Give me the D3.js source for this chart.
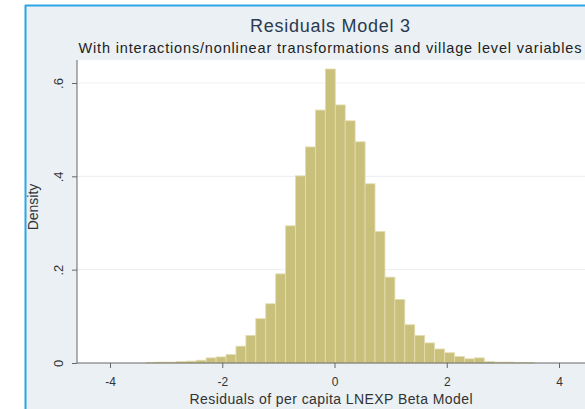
<!DOCTYPE html>
<html>
<head>
<meta charset="utf-8">
<script src="https://cdn.jsdelivr.net/npm/d3@7"></script>
<style>
  body { margin: 0; background: #fff; }
  svg { display: block; font-family: "Liberation Sans", Arial, sans-serif; }
</style>
</head>
<body>
<div id="chart"></div>
<script>
// histogram settings
const binStart = -3.349;
const binWidth = 0.177;
const densities = [
  0.001, 0.002, 0.002, 0.003, 0.004, 0.006, 0.011, 0.013, 0.018, 0.036,
  0.059, 0.095, 0.127, 0.191, 0.294, 0.401, 0.463, 0.542, 0.630, 0.553,
  0.519, 0.474, 0.384, 0.282, 0.184, 0.136, 0.082, 0.059, 0.043, 0.030,
  0.022, 0.014, 0.009, 0.011, 0.003, 0.002, 0.002, 0.001, 0.001
];
const xTicks = [-4, -2, 0, 2, 4];
const yTicks = [0, 0.2, 0.4, 0.6];
const yTickLabels = ["0", ".2", ".4", ".6"];

const title = "Residuals Model 3";
const subtitle = "With interactions/nonlinear transformations and village level variables";
const xTitle = "Residuals of per capita LNEXP Beta Model";
const yTitle = "Density";

const W = 585, H = 409;
const plot = { left: 77, right: 585, top: 60, bottom: 363 };

const svg = d3.select("#chart").append("svg")
    .attr("width", W)
    .attr("height", H);

// outer frame (graph region)
svg.append("rect")
    .attr("x", 25).attr("y", 5)
    .attr("width", W - 25).attr("height", H - 5)
    .attr("fill", "#eaf0f3");
svg.append("line")
    .attr("x1", 25).attr("x2", W).attr("y1", 5.5).attr("y2", 5.5)
    .attr("stroke", "#2aa6e6").attr("stroke-width", 2);
svg.append("line")
    .attr("x1", 25.5).attr("x2", 25.5).attr("y1", 5).attr("y2", H)
    .attr("stroke", "#2aa6e6").attr("stroke-width", 2);

// plot region
svg.append("rect")
    .attr("x", plot.left).attr("y", plot.top)
    .attr("width", plot.right - plot.left).attr("height", plot.bottom - plot.top)
    .attr("fill", "#fff");

const x = d3.scaleLinear().domain([-4, 4]).range([110, 559]);
const y = d3.scaleLinear().domain([0, 0.6]).range([plot.bottom, 83]);

// gridlines
svg.append("g")
    .selectAll("line")
    .data(yTicks.slice(1))
    .join("line")
    .attr("x1", plot.left).attr("x2", plot.right)
    .attr("y1", d => y(d)).attr("y2", d => y(d))
    .attr("stroke", "#edf1f3").attr("stroke-width", 1.2);

// bars
const bins = densities.map((d, i) => ({
    x0: binStart + i * binWidth,
    x1: binStart + (i + 1) * binWidth,
    density: d
}));

svg.append("g")
    .selectAll("rect")
    .data(bins)
    .join("rect")
    .attr("x", d => x(d.x0))
    .attr("y", d => y(d.density))
    .attr("width", d => x(d.x1) - x(d.x0))
    .attr("height", d => y(0) - y(d.density))
    .attr("fill", "#c9c07c")
    .attr("stroke", "#e4ddb0")
    .attr("stroke-width", 0.8);

// y axis
const yAxis = svg.append("g")
    .attr("transform", "translate(" + plot.left + ",0)")
    .call(d3.axisLeft(y).tickValues(yTicks).tickSize(5).tickFormat((d, i) => yTickLabels[i]));
yAxis.select(".domain").attr("d", "M0," + plot.top + "V" + plot.bottom).attr("stroke", "#666");
yAxis.selectAll(".tick line").attr("stroke", "#666");
yAxis.selectAll(".tick text")
    .attr("transform", "rotate(-90)")
    .attr("x", 0).attr("y", -14)
    .attr("dy", 0)
    .attr("text-anchor", "middle")
    .attr("fill", "#333")
    .style("font-size", "13px")
    .style("font-family", "Liberation Sans, Arial, sans-serif");

// x axis
const xAxis = svg.append("g")
    .attr("transform", "translate(0," + plot.bottom + ")")
    .call(d3.axisBottom(x).tickValues(xTicks).tickSize(5).tickFormat(d => d));
xAxis.select(".domain").attr("d", "M" + plot.left + ",0H" + plot.right).attr("stroke", "#666");
xAxis.selectAll(".tick line").attr("stroke", "#666");
xAxis.selectAll(".tick text")
    .attr("y", 23).attr("dy", 0)
    .attr("fill", "#333")
    .style("font-size", "12px")
    .style("font-family", "Liberation Sans, Arial, sans-serif");

// titles
svg.append("text")
    .attr("x", 330).attr("y", 32)
    .attr("text-anchor", "middle")
    .attr("fill", "#2a3a50")
    .style("font-size", "18px")
    .attr("textLength", 160)
    .attr("lengthAdjust", "spacing")
    .text(title);

svg.append("text")
    .attr("x", 330).attr("y", 53)
    .attr("text-anchor", "middle")
    .attr("fill", "#222")
    .style("font-size", "14.5px")
    .attr("textLength", 503)
    .attr("lengthAdjust", "spacing")
    .text(subtitle);

svg.append("text")
    .attr("x", 331).attr("y", 404)
    .attr("text-anchor", "middle")
    .attr("fill", "#333")
    .style("font-size", "14px")
    .attr("textLength", 283)
    .attr("lengthAdjust", "spacing")
    .text(xTitle);

svg.append("text")
    .attr("transform", "translate(38,207) rotate(-90)")
    .attr("text-anchor", "middle")
    .attr("fill", "#333")
    .style("font-size", "14px")
    .text(yTitle);
</script>
</body>
</html>
